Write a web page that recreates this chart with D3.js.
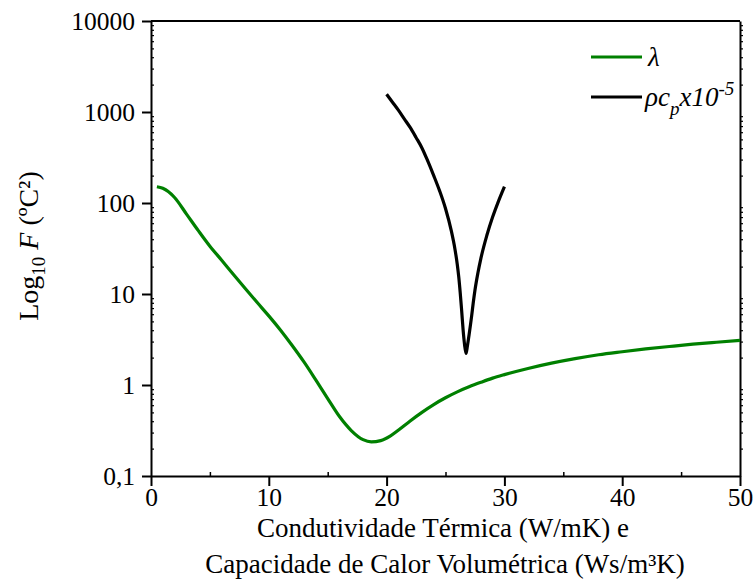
<!DOCTYPE html>
<html>
<head>
<meta charset="utf-8">
<script src="https://cdn.jsdelivr.net/npm/d3@7"></script>
<style>
  body { margin: 0; background: #fff; }
</style>
</head>
<body>
<div id="chart"></div>
<script>
// lambda curve (green)
const lambdaX = [0.5, 1, 2, 3, 4, 5, 6, 7, 8, 9, 10, 11, 12, 13, 14, 15, 16, 17, 18, 18.7, 19.5, 20.3, 21.1, 22, 23, 24, 25, 26, 27, 28, 29, 30, 32, 34, 36, 38, 40, 42, 44, 46, 48, 50];
const lambdaY = [151, 145, 115, 76, 50, 33.5, 23.5, 16.4, 11.5, 8.1, 5.75, 4.0, 2.7, 1.78, 1.13, 0.71, 0.45, 0.316, 0.251, 0.237, 0.245, 0.275, 0.327, 0.403, 0.501, 0.61, 0.724, 0.841, 0.955, 1.07, 1.19, 1.30, 1.52, 1.74, 1.95, 2.15, 2.32, 2.49, 2.65, 2.81, 2.95, 3.09];

// rho*cp curve (black), x10^-5
const rhoX = [20.0, 20.5, 21.0, 21.5, 22.0, 22.5, 23.0, 23.5, 24.0, 24.5, 25.0, 25.5, 25.8, 26.0, 26.12, 26.25, 26.37, 26.5, 26.62, 26.74, 26.86, 27.0, 27.22, 27.35, 27.5, 27.75, 28.0, 28.5, 29.0, 29.5, 30.0];
const rhoY = [1567, 1282, 1047, 841, 676, 525, 403, 288, 200, 136, 87, 49, 31.3, 21.1, 15.6, 10.3, 6.6, 3.96, 2.77, 2.22, 2.69, 3.55, 5.75, 7.9, 11.0, 17.0, 24.5, 43.6, 70, 105, 151];

const xTicks = [0, 10, 20, 30, 40, 50];
const xMinor = [5, 15, 25, 35, 45];
const yTicks = [0.1, 1, 10, 100, 1000, 10000];
const yLabels = ["0,1", "1", "10", "100", "1000", "10000"];

const W = 756, H = 584;
const mLeft = 151, mRight = 740, mTop = 21, mBottom = 476;
const serif = "'Liberation Serif', 'Times New Roman', serif";

const svg = d3.select("#chart").append("svg")
    .attr("width", W)
    .attr("height", H);

const x = d3.scaleLinear().domain([0, 50]).range([mLeft, mRight]);
const y = d3.scaleLog().domain([0.1, 10000]).range([mBottom, mTop]);

// minor log ticks 2..9 in each decade
const yMinor = [];
for (let d = -1; d < 4; d++) {
    for (let k = 2; k <= 9; k++) yMinor.push(k * Math.pow(10, d));
}

// frame top and right
svg.append("line")
    .attr("x1", mLeft).attr("x2", mRight)
    .attr("y1", mTop).attr("y2", mTop)
    .attr("stroke", "#000").attr("stroke-width", 2);

const rightAxis = svg.append("g")
    .attr("transform", `translate(${mRight},0)`)
    .call(d3.axisRight(y).tickValues(yMinor).tickSize(3).tickSizeOuter(0).tickFormat(""));
rightAxis.select(".domain").attr("stroke-width", 2);
rightAxis.selectAll(".tick line").attr("stroke-width", 1.2);

// bottom axis
const xAxis = svg.append("g")
    .attr("transform", `translate(0,${mBottom})`)
    .call(d3.axisBottom(x).tickValues(xTicks).tickSize(10).tickSizeOuter(0).tickPadding(2));
xAxis.select(".domain").attr("stroke-width", 2);
xAxis.selectAll(".tick line").attr("stroke-width", 2);
xAxis.selectAll("text").style("font-size", "25.5px").style("font-family", serif).attr("fill", "#000");

const xMinorAxis = svg.append("g")
    .attr("transform", `translate(0,${mBottom})`)
    .call(d3.axisTop(x).tickValues(xMinor).tickSize(4).tickFormat(""));
xMinorAxis.select(".domain").remove();
xMinorAxis.selectAll(".tick line").attr("stroke-width", 1.5);

// left axis
const yAxis = svg.append("g")
    .attr("transform", `translate(${mLeft},0)`)
    .call(d3.axisLeft(y).tickValues(yTicks).tickSize(9).tickSizeOuter(0).tickPadding(7)
        .tickFormat((d, i) => yLabels[i]));
yAxis.select(".domain").attr("stroke-width", 2);
yAxis.selectAll(".tick line").attr("stroke-width", 2);
yAxis.selectAll("text").style("font-size", "25.5px").style("font-family", serif).attr("fill", "#000");

const yMinorAxis = svg.append("g")
    .attr("transform", `translate(${mLeft},0)`)
    .call(d3.axisRight(y).tickValues(yMinor).tickSize(3).tickFormat(""));
yMinorAxis.select(".domain").remove();
yMinorAxis.selectAll(".tick line").attr("stroke-width", 1.2);

// curves
const line = d3.line()
    .x(d => x(d[0]))
    .y(d => y(d[1]))
    .curve(d3.curveMonotoneX);

svg.append("path")
    .datum(d3.zip(lambdaX, lambdaY))
    .attr("d", line)
    .attr("fill", "none")
    .attr("stroke", "#008000")
    .attr("stroke-width", 3.2);

svg.append("path")
    .datum(d3.zip(rhoX, rhoY))
    .attr("d", line)
    .attr("fill", "none")
    .attr("stroke", "#000")
    .attr("stroke-width", 3.2);

// legend
const legend = svg.append("g")
    .style("font-family", serif)
    .style("font-style", "italic");
legend.append("line")
    .attr("x1", 591).attr("x2", 642).attr("y1", 57).attr("y2", 57)
    .attr("stroke", "#008000").attr("stroke-width", 3.2);
legend.append("text")
    .attr("x", 648).attr("y", 66)
    .style("font-size", "27px")
    .text("λ");
legend.append("line")
    .attr("x1", 591).attr("x2", 642).attr("y1", 97).attr("y2", 97)
    .attr("stroke", "#000").attr("stroke-width", 3.2);
const lt = legend.append("text")
    .attr("x", 645).attr("y", 106)
    .style("font-size", "27px");
lt.append("tspan").text("ρc");
lt.append("tspan").attr("dy", 9).style("font-size", "19px").text("p");
lt.append("tspan").attr("dy", -9).text("x10");
lt.append("tspan").attr("dy", -11).style("font-size", "19px").text("-5");

// x title
svg.append("text")
    .attr("x", 443).attr("y", 537)
    .attr("text-anchor", "middle")
    .style("font-family", serif)
    .style("font-size", "27px")
    .text("Condutividade Térmica (W/mK) e");
svg.append("text")
    .attr("x", 445).attr("y", 573)
    .attr("text-anchor", "middle")
    .style("font-family", serif)
    .style("font-size", "27px")
    .text("Capacidade de Calor Volumétrica (Ws/m³K)");

// y title
const yt = svg.append("text")
    .attr("transform", "translate(38,246) rotate(-90)")
    .attr("text-anchor", "middle")
    .style("font-family", serif)
    .style("font-size", "28px");
yt.append("tspan").text("Log");
yt.append("tspan").attr("dy", 7).style("font-size", "19px").text("10");
yt.append("tspan").attr("dy", -7).text(" ");
yt.append("tspan").style("font-style", "italic").text("F");
yt.append("tspan").text(" (ºC²)");
</script>
</body>
</html>
